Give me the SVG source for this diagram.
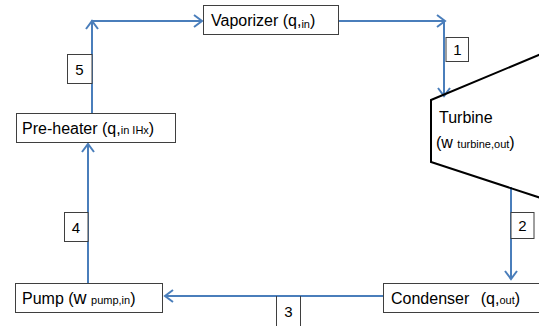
<svg xmlns="http://www.w3.org/2000/svg" width="539" height="326" viewBox="0 0 539 326">
  <style>
    .box { fill: #ffffff; stroke: #3f3f3f; stroke-width: 1; }
    .flow { fill: none; stroke: #4a7ebb; stroke-width: 2; }
    .casing { fill: none; stroke: #000000; stroke-width: 2; }
    .lbl { font-family: "Liberation Sans", Arial, sans-serif; font-size: 16px; fill: #000000; }
    .sub { font-size: 11px; }
    .num { font-family: "Liberation Sans", Arial, sans-serif; font-size: 15px; fill: #000000; text-anchor: middle; }
  </style>
  <defs>
    <marker id="head" markerUnits="userSpaceOnUse" markerWidth="14" markerHeight="16" refX="9" refY="7" orient="auto">
      <path d="M1,1 L9,7 L1,13" fill="none" stroke="#4a7ebb" stroke-width="2"/>
    </marker>
  </defs>

  <!-- connectors -->
  <g id="connectors">
    <path class="flow" d="M92,113 L92,21" marker-end="url(#head)"/>
    <path class="flow" d="M91,21 L202,21" marker-end="url(#head)"/>
    <path class="flow" d="M339,21 L445,21" marker-end="url(#head)"/>
    <path class="flow" d="M444,21 L444,96" marker-end="url(#head)"/>
    <path class="flow" d="M511,187 L511,279" marker-end="url(#head)"/>
    <path class="flow" d="M383,296 L165,296" marker-end="url(#head)"/>
    <path class="flow" d="M88,283 L88,144" marker-end="url(#head)"/>
  </g>

  <!-- state point tags -->
  <g id="tag1"><rect class="box" x="446" y="37.5" width="22.5" height="24"/><text class="num" x="457.5" y="55">1</text></g>
  <g id="tag2"><rect class="box" x="511" y="212.5" width="23" height="26"/><text class="num" x="522.5" y="231">2</text></g>
  <g id="tag3"><path class="box" d="M276.5,296 L276.5,330 M300.5,296 L300.5,330"/><text class="num" x="288.5" y="317">3</text></g>
  <g id="tag4"><rect class="box" x="64.5" y="212.5" width="23.5" height="29"/><text class="num" x="76" y="233">4</text></g>
  <g id="tag5"><rect class="box" x="67.5" y="54.5" width="24.5" height="29"/><text class="num" x="79.5" y="75">5</text></g>

  <!-- vaporizer -->
  <g id="vaporizer">
    <rect class="box" x="203.5" y="5.5" width="135" height="29"/>
    <text class="lbl" x="211" y="26">Vaporizer (q,<tspan class="sub" dy="2">in</tspan><tspan dy="-2">)</tspan></text>
  </g>

  <!-- turbine -->
  <g id="turbine">
    <polyline class="casing" points="541,54 431,100 431,162 541,198"/>
    <text class="lbl" x="439" y="123">Turbine</text>
    <text class="lbl" x="436" y="148" font-size="18">(w <tspan class="sub">turbine,out</tspan>)</text>
  </g>

  <!-- condenser -->
  <g id="condenser">
    <rect class="box" x="383.5" y="283.5" width="170" height="29"/>
    <text class="lbl" x="391" y="304">Condenser <tspan dx="7">(q,</tspan><tspan class="sub">out</tspan>)</text>
  </g>

  <!-- pump -->
  <g id="pump">
    <rect class="box" x="15.5" y="283.5" width="147" height="29"/>
    <text class="lbl" x="22" y="304">Pump (<tspan font-size="18">w</tspan> <tspan class="sub">pump,in</tspan>)</text>
  </g>

  <!-- pre-heater -->
  <g id="preheater">
    <rect class="box" x="16.5" y="113.5" width="159" height="29"/>
    <text class="lbl" x="22" y="134">Pre-heater (q,<tspan class="sub">in IHx</tspan>)</text>
  </g>
</svg>
